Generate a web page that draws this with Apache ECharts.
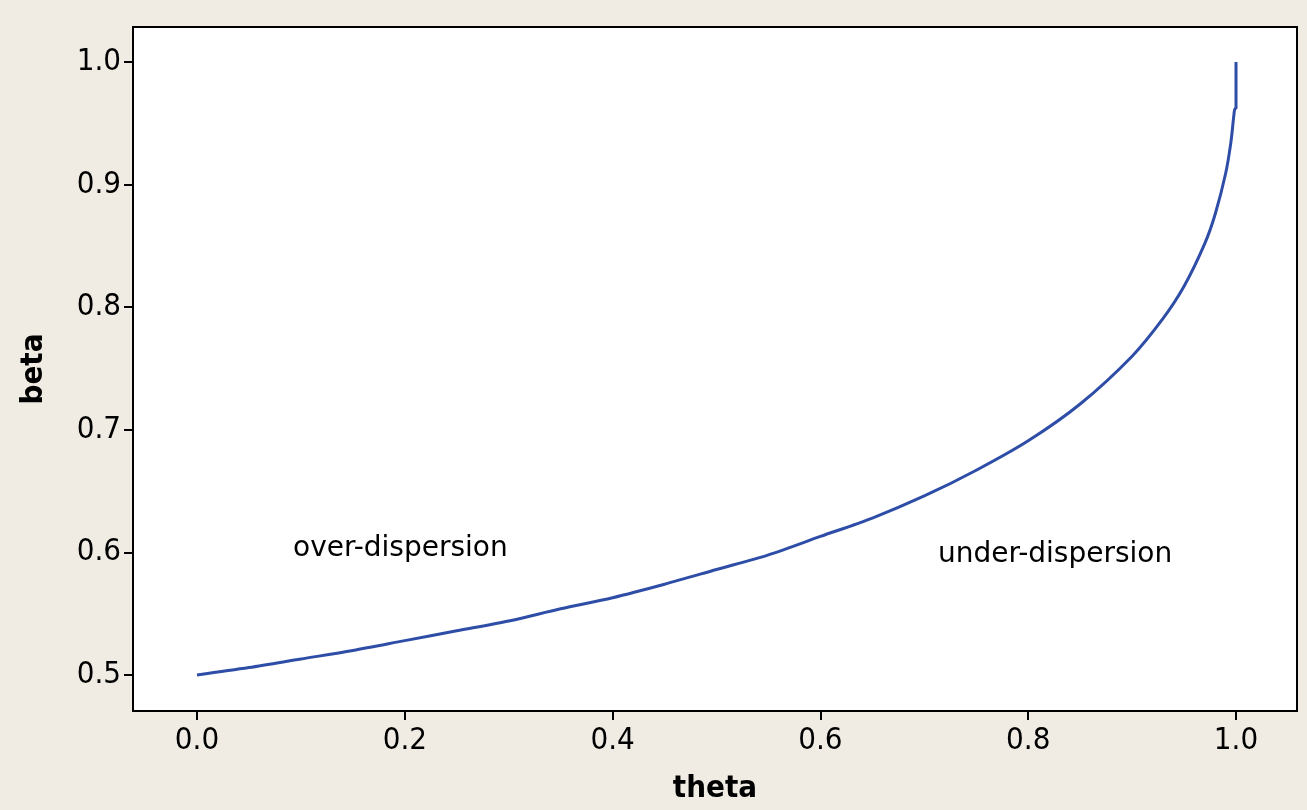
<!DOCTYPE html>
<html>
<head>
<meta charset="utf-8">
<script src="https://cdn.jsdelivr.net/npm/echarts@6/dist/echarts.min.js"></script>
<style>
html,body{margin:0;padding:0;background:#F0ECE3;}
#chart{width:1307px;height:810px;}
</style>
</head>
<body>
<div id="chart"></div>
<script>
// Data
const theta = [0, 0.05, 0.1, 0.15, 0.2, 0.25, 0.3, 0.35, 0.4, 0.45, 0.5, 0.55, 0.6, 0.65, 0.7, 0.75, 0.8, 0.85, 0.9, 0.93, 0.95, 0.97, 0.98, 0.99, 0.995, 0.998, 0.999, 1.0, 1.0];
const beta  = [0.500, 0.506, 0.513, 0.520, 0.528, 0.536, 0.544, 0.554, 0.563, 0.574, 0.586, 0.598, 0.613, 0.628, 0.646, 0.667, 0.691, 0.721, 0.760, 0.791, 0.817, 0.852, 0.876, 0.909, 0.934, 0.957, 0.962, 0.962, 1.000];
const xTicks = [0, 0.2, 0.4, 0.6, 0.8, 1.0];
const xTickLabels = ["0.0", "0.2", "0.4", "0.6", "0.8", "1.0"];
const yTicks = [0.5, 0.6, 0.7, 0.8, 0.9, 1.0];
const yTickLabels = ["0.5", "0.6", "0.7", "0.8", "0.9", "1.0"];
const regionLabels = ["over-dispersion", "under-dispersion"];
const xTitle = "theta";
const yTitle = "beta";

const FONT = '"DejaVu Sans Condensed", "DejaVu Sans", sans-serif';
const FONT2 = '"DejaVu Sans", sans-serif';
const chart = echarts.init(document.getElementById('chart'), null, {renderer: 'canvas'});
const pts = theta.map((t, i) => [t, beta[i]]);

chart.setOption({
  backgroundColor: '#F0ECE3',
  animation: false,
  grid: {
    left: 133, right: 10, top: 27, bottom: 99,
    show: true, backgroundColor: '#ffffff', borderColor: '#000000', borderWidth: 2
  },
  xAxis: {
    type: 'value',
    min: -0.0616, max: 1.0587,
    name: xTitle, nameLocation: 'middle', nameGap: 62,
    nameTextStyle: {fontFamily: FONT, fontSize: 31, fontWeight: 'bold', color: '#000'},
    axisLine: {show: true, onZero: false, lineStyle: {color: '#000', width: 2}},
    axisTick: {show: true, length: 9, lineStyle: {color: '#000', width: 2}, customValues: xTicks},
    axisLabel: {
      fontFamily: FONT, fontSize: 31, color: '#000', margin: 14,
      customValues: xTicks,
      formatter: v => { const i = xTicks.findIndex(t => Math.abs(t - v) < 1e-6); return i >= 0 ? xTickLabels[i] : ''; }
    },
    splitLine: {show: false}
  },
  yAxis: {
    type: 'value',
    min: 0.4706, max: 1.0285,
    name: yTitle, nameLocation: 'middle', nameGap: 84, nameRotate: 90,
    nameTextStyle: {fontFamily: FONT, fontSize: 31, fontWeight: 'bold', color: '#000'},
    axisLine: {show: true, onZero: false, lineStyle: {color: '#000', width: 2}},
    axisTick: {show: true, length: 9, lineStyle: {color: '#000', width: 2}, customValues: yTicks},
    axisLabel: {
      fontFamily: FONT, fontSize: 31, color: '#000', margin: 12,
      customValues: yTicks,
      formatter: v => { const i = yTicks.findIndex(t => Math.abs(t - v) < 1e-6); return i >= 0 ? yTickLabels[i] : ''; }
    },
    splitLine: {show: false}
  },
  series: [{
    type: 'line',
    data: pts,
    showSymbol: false,
    smooth: 0.3,
    lineStyle: {color: '#2E4DA7', width: 3},
    clip: true
  }],
  graphic: [
    {type: 'text', left: 293, top: 535, style: {text: regionLabels[0], font: '28px ' + FONT2, fill: '#000'}},
    {type: 'text', left: 938, top: 541, style: {text: regionLabels[1], font: '28px ' + FONT2, fill: '#000'}}
  ]
});
</script>
</body>
</html>
